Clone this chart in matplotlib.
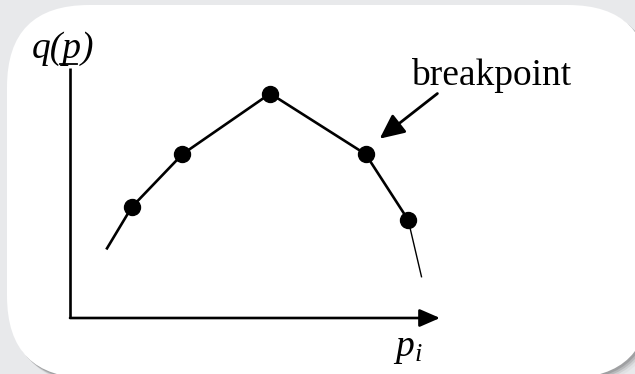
import matplotlib
matplotlib.use("Agg")
import matplotlib.pyplot as plt
from matplotlib.patches import FancyBboxPatch, FancyArrowPatch
from matplotlib.lines import Line2D

# ---- data ----
p_break = [1.67, 3.04, 5.41, 7.99, 9.14]
q_break = [4.30, 6.35, 8.70, 6.35, 3.80]
p_start, q_start = 1.00, 2.70
p_end, q_end = 9.50, 1.60
y_label = "q(p)"
x_label = "p"
x_sub = "i"
note = "breakpoint"

W, H = 635, 374
fig = plt.figure(figsize=(W / 100, H / 100), dpi=100)
fig.patch.set_facecolor("#e8e9eb")

def fx(x):
    return x / W

def fy(y):
    return 1 - y / H

# background card
bg = fig.add_axes([0, 0, 1, 1])
bg.set_xlim(0, W)
bg.set_ylim(H, 0)
bg.axis("off")
RS = 82
CX, CY, CW, CH = 7, 5, 643, 373
for i, (off, col) in enumerate([(7, "#dcdddf"), (5, "#c4c5c7"), (3.5, "#a9aaac"), (2, "#8f9092")]):
    bg.add_patch(FancyBboxPatch((CX + off, CY + off), CW, CH, boxstyle=f"round,pad=0,rounding_size={RS}",
                                fc=col, ec="none", alpha=0.6, zorder=1 + i * 0.1))
bg.add_patch(FancyBboxPatch((CX, CY), CW, CH, boxstyle=f"round,pad=0,rounding_size={RS}",
                            fc="white", ec="none", zorder=2))

# chart axes
ax = fig.add_axes([fx(70), fy(318), fx(440) - fx(70), fy(60) - fy(318)])
ax.set_xlim(0, 10)
ax.set_ylim(0, 10)
ax.axis("off")
ax.patch.set_alpha(0)

# axes lines
ax.plot([0, 0], [0, 9.7], color="black", lw=1.9, clip_on=False, solid_capstyle="butt")
ax.add_patch(FancyArrowPatch((0, 0), (10, 0), arrowstyle="-|>,head_length=0.62,head_width=0.27",
                             mutation_scale=20, color="black", lw=1.9, clip_on=False,
                             shrinkA=0, shrinkB=0))

# piecewise curve
xs = [p_start] + p_break
ys = [q_start] + q_break
ax.plot(xs, ys, color="black", lw=1.9, clip_on=False, zorder=3)
ax.plot([p_break[-1], p_end], [q_break[-1], q_end], color="black", lw=1.0, clip_on=False, zorder=3)
ax.plot(p_break, q_break, "o", color="black", ms=11.5, clip_on=False, zorder=4)

# annotation
serif = "Liberation Serif"
ax.annotate("", xy=(p_break[3] + 0.38, q_break[3] + 0.6), xytext=(9.93, 8.7),
            xycoords="data", textcoords="data",
            arrowprops=dict(arrowstyle="-|>,head_length=0.75,head_width=0.35", mutation_scale=20,
                            color="black", lw=2.0, shrinkA=0, shrinkB=0), annotation_clip=False)

fig.text(fx(411), fy(85), note, fontsize=27, family=serif, ha="left", va="baseline")

FS = 27
t = fig.text(fx(32), fy(58), y_label, fontsize=FS, family=serif, style="italic", ha="left", va="baseline")
fig.canvas.draw()
r = fig.canvas.get_renderer()
pre = fig.text(fx(32), fy(58), y_label[:2], fontsize=FS, family=serif, style="italic", ha="left", va="baseline")
pre2 = fig.text(fx(32), fy(58), y_label[:3], fontsize=FS, family=serif, style="italic", ha="left", va="baseline")
b1 = pre.get_window_extent(r)
b2 = pre2.get_window_extent(r)
pre.remove()
pre2.remove()
x0 = b1.x1 / W
x1 = b2.x1 / W
fig.add_artist(Line2D([x0 - 0.005, x1 - 0.008], [fy(63.5), fy(63.5)], color="black", lw=1.3,
                      transform=fig.transFigure))

fig.text(fx(395), fy(356), x_label, fontsize=FS, family=serif, style="italic", ha="left", va="baseline")
fig.text(fx(415), fy(361), x_sub, fontsize=19, family=serif, style="italic", ha="left", va="baseline")

fig.savefig("out.png", dpi=100)
